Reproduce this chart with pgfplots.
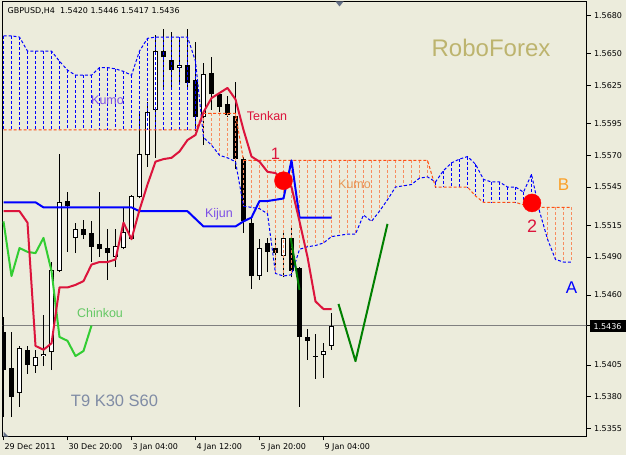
\documentclass[border=0pt]{standalone}
\usepackage{fontspec}
\setmainfont{Liberation Sans}
\newfontfamily\tahoma{DejaVu Sans}
\usepackage{pgfplots}
\pgfplotsset{compat=1.18}
\usepackage{pgfplotstable}

\definecolor{bgc}{RGB}{236,236,220}
\definecolor{kblue}{RGB}{0,0,255}
\definecolor{korange}{RGB}{255,80,20}
\definecolor{khatch}{RGB}{248,140,95}
\definecolor{tenkanc}{RGB}{220,20,60}
\definecolor{kijunc}{RGB}{0,0,255}
\definecolor{chinkouc}{RGB}{50,205,50}
\definecolor{dgreen}{RGB}{0,128,0}
\definecolor{labpurple}{RGB}{125,80,230}
\definecolor{khaki}{RGB}{189,180,110}
\definecolor{slate}{RGB}{128,140,165}
\definecolor{orangeB}{RGB}{250,160,40}
\definecolor{markgray}{RGB}{100,112,135}
\definecolor{labgreen}{RGB}{100,200,100}
\definecolor{kumoorange}{RGB}{232,150,85}

% Senkou span A and B (shifted 30 bars forward)
\pgfplotstableread{
i A B
0 1.5664 1.5590
1 1.5664 1.5590
2 1.5663 1.5590
3 1.5652 1.5590
4 1.5652 1.5590
5 1.5652 1.5590
6 1.5652 1.5590
7 1.5644 1.5590
8 1.5637 1.5590
9 1.5633 1.5590
10 1.5633 1.5590
11 1.5633 1.5590
12 1.5639 1.5590
13 1.5639 1.5590
14 1.5638 1.5590
15 1.5636 1.5590
16 1.5633 1.5590
17 1.5652 1.5590
18 1.5662 1.5590
19 1.5663 1.5590
20 1.5663 1.5590
21 1.5663 1.5590
22 1.5663 1.5590
23 1.5663 1.5590
24 1.5644 1.5590
25 1.5584 1.5603
26 1.5578 1.5603
27 1.5570 1.5603
28 1.5568 1.5603
29 1.5565 1.5603
30 1.5530 1.5566
31 1.5529 1.5566
32 1.5528 1.5566
33 1.5524 1.5566
34 1.5477 1.5566
35 1.5475 1.5566
36 1.5476 1.5566
37 1.5496 1.5566
38 1.5498 1.5566
39 1.5499 1.5566
40 1.5501 1.5566
41 1.5506 1.5566
42 1.5507 1.5566
43 1.5508 1.5566
44 1.5508 1.5566
45 1.5523 1.5566
46 1.5518 1.5566
47 1.5526 1.5566
48 1.5535 1.5566
49 1.5545 1.5566
50 1.5546 1.5566
51 1.5547 1.5566
52 1.5552 1.5566
53 1.5553 1.5566
54 1.5549 1.5545
55 1.5558 1.5545
56 1.5564 1.5545
57 1.5567 1.5545
58 1.5569 1.5545
59 1.5563 1.5538
60 1.5551 1.5533
61 1.5549 1.5533
62 1.5549 1.5533
63 1.5545 1.5533
64 1.5545 1.5533
65 1.5541 1.5531
66 1.5555 1.5529
67 1.5526 1.5529
68 1.5504 1.5529
69 1.5488 1.5529
70 1.5486 1.5529
71 1.5486 1.5529
}\kumo

% Tenkan and Kijun
\pgfplotstableread{
i T K
0 1.5526 1.5533
1 1.5526 1.5533
2 1.5526 1.5533
3 1.5517 1.5533
4 1.5420 1.5533
5 1.5417 1.5529
6 1.5422 1.5529
7 1.5466 1.5529
8 1.5466 1.5529
9 1.5468 1.5529
10 1.5471 1.5529
11 1.5484 1.5529
12 1.5486 1.5529
13 1.5486 1.5529
14 1.5488 1.5529
15 1.5517 1.5529
16 1.5504 1.5529
17 1.5527 1.5526
18 1.5547 1.5526
19 1.5565 1.5526
20 1.5567 1.5526
21 1.5568 1.5526
22 1.5573 1.5526
23 1.5582 1.5526
24 1.5586 1.5520
25 1.5604 1.5514
26 1.5615 1.5514
27 1.5619 1.5514
28 1.5623 1.5514
29 1.5614 1.5514
30 1.5590 1.5518
31 1.5569 1.5521
32 1.5565 1.5534
33 1.5557 1.5534
34 1.5556 1.5535
35 1.5550 1.5536
36 1.5545 1.5566
37 1.5518 1.5521
38 1.5490 1.5521
39 1.5455 1.5521
40 1.5449 1.5521
41 1.5449 1.5521
}\tkdata

% Chinkou (close shifted 30 bars back)
\pgfplotstableread{
i C
0 1.5518
1 1.5475
2 1.5497
3 1.5494
4 1.5493
5 1.5505
6 1.5479
7 1.5427
8 1.5424
9 1.5412
10 1.5416
11 1.5436
}\chdata

% candles: bar, low, body bottom, body top, high
\newcommand{\bear}[5]{%
  \addplot[forget plot, black, line width=1pt] coordinates {(#1,#2) (#1,#5)};
  \addplot[forget plot, black, line width=5pt] coordinates {(#1,#3) (#1,#4)};}
\newcommand{\bull}[5]{%
  \addplot[forget plot, black, line width=1pt] coordinates {(#1,#2) (#1,#5)};
  \addplot[forget plot, black, line width=5pt] coordinates {(#1,#3) (#1,#4)};
  \addplot[forget plot, white, line width=3pt, shorten >=1pt, shorten <=1pt] coordinates {(#1,#3) (#1,#4)};}
% doji: bar, low, price, high
\newcommand{\doji}[4]{%
  \addplot[forget plot, black, line width=1pt] coordinates {(#1,#2) (#1,#4)};
  \addplot[forget plot, black, line width=1pt] coordinates {(#1-0.32,#3) (#1+0.32,#3)};}

\begin{document}
\begin{tikzpicture}
\useasboundingbox (-2.5pt,-18.5pt) rectangle (623.5pt,436.5pt);
\fill[bgc] (-2.5pt,-18.5pt) rectangle (623.5pt,436.5pt);
\begin{axis}[
  at={(0pt,0pt)}, anchor=south west,
  scale only axis, width=584pt, height=435pt,
  xmin=-0.125, xmax=72.875, ymin=1.534871, ymax=1.569102,
  axis line style={line width=1pt, black},
  axis background/.style={fill=bgc},
  tick align=outside, major tick length=4pt,
  tick style={black, line width=0.8pt},
  xtick pos=bottom, ytick pos=right, yticklabel pos=right,
  xtick={0,8,16,24,32,40},
  xticklabels={29 Dec 2011, 30 Dec 20:00, 3 Jan 04:00, 4 Jan 12:00, 5 Jan 20:00, 9 Jan 04:00},
  xticklabel style={anchor=north west, xshift=-2.5pt, font=\tahoma\fontsize{8}{9}\selectfont},
  ytick={1.5355,1.5380,1.5405,1.5436,1.5460,1.5490,1.5515,1.5545,1.5570,1.5595,1.5625,1.5650,1.5680},
  yticklabels={1.5355,1.5380,1.5405,{},1.5460,1.5490,1.5515,1.5545,1.5570,1.5595,1.5625,1.5650,1.5680},
  yticklabel style={anchor=west, font=\tahoma\fontsize{8}{9}\selectfont},
  scaled y ticks=false, scaled x ticks=false,
  clip=true,
]
% bid line
\addplot[forget plot, color={rgb,255:red,128;green,128;blue,128}, line width=0.8pt] coordinates {(-1,1.5436) (80,1.5436)};

% candles
\bear{0}{1.5364}{1.5401}{1.5431}{1.5443}
\bear{1}{1.5364}{1.5380}{1.5403}{1.5431}
\bull{2}{1.5372}{1.5383}{1.5418}{1.5420}
\bear{3}{1.5398}{1.5405}{1.5417}{1.5420}
\bull{4}{1.5399}{1.5404}{1.5411}{1.5417}
\bull{5}{1.5404}{1.5412}{1.5414}{1.5444}
\bull{6}{1.5401}{1.5415}{1.5480}{1.5486}
\bull{7}{1.5478}{1.5479}{1.5533}{1.5571}
\bear{8}{1.5494}{1.5530}{1.5534}{1.5541}
\bull{9}{1.5493}{1.5505}{1.5512}{1.5517}
\bear{10}{1.5504}{1.5507}{1.5512}{1.5519}
\bear{11}{1.5486}{1.5498}{1.5509}{1.5518}
\bear{12}{1.5490}{1.5496}{1.5500}{1.5541}
\bear{13}{1.5472}{1.5493}{1.5497}{1.5512}
\bull{14}{1.5482}{1.5490}{1.5499}{1.5512}
\bull{15}{1.5496}{1.5497}{1.5510}{1.5529}
\bull{16}{1.5503}{1.5504}{1.5538}{1.5539}
\bull{17}{1.5536}{1.5537}{1.5571}{1.5604}
\bull{18}{1.5561}{1.5570}{1.5604}{1.5612}
\bull{19}{1.5568}{1.5606}{1.5652}{1.5665}
\bear{20}{1.5622}{1.5647}{1.5652}{1.5669}
\bear{21}{1.5623}{1.5637}{1.5645}{1.5667}
\bull{22}{1.5626}{1.5639}{1.5641}{1.5663}
\bear{23}{1.5623}{1.5627}{1.5641}{1.5669}
\bear{24}{1.5589}{1.5600}{1.5629}{1.5659}
\bull{25}{1.5578}{1.5600}{1.5634}{1.5643}
\bear{26}{1.5606}{1.5618}{1.5635}{1.5647}
\bear{27}{1.5604}{1.5608}{1.5618}{1.5620}
\bear{28}{1.5600}{1.5602}{1.5610}{1.5617}
\bear{29}{1.5559}{1.5567}{1.5601}{1.5628}
\bear{30}{1.5509}{1.5518}{1.5567}{1.5569}
\bear{31}{1.5465}{1.5475}{1.5517}{1.5521}
\bull{32}{1.5472}{1.5475}{1.5497}{1.5504}
\bear{33}{1.5478}{1.5494}{1.5501}{1.5505}
\bear{34}{1.5484}{1.5493}{1.5497}{1.5505}
\bull{35}{1.5474}{1.5491}{1.5505}{1.5510}
\bear{36}{1.5474}{1.5479}{1.5505}{1.5514}
\bear{37}{1.5372}{1.5427}{1.5481}{1.5482}
\bear{38}{1.5409}{1.5424}{1.5427}{1.5433}
\doji{39}{1.5394}{1.5412}{1.5429}
\bull{40}{1.5395}{1.5413}{1.5416}{1.5422}
\bull{41}{1.5417}{1.5420}{1.5436}{1.5446}

% kumo hatching: span A above span B (blue)
\pgfplotsinvokeforeach{0,...,24,54,55,...,66}{%
  \pgfplotstablegetelem{#1}{A}\of\kumo \let\Aval\pgfplotsretval
  \pgfplotstablegetelem{#1}{B}\of\kumo \let\Bval\pgfplotsretval
  \edef\doit{\noexpand\addplot[forget plot, kblue, line width=1pt, dash pattern=on 3pt off 2pt] coordinates {(#1,\Aval) (#1,\Bval)};}%
  \doit
}
% kumo hatching: span B above span A (orange)
\pgfplotsinvokeforeach{25,...,53,67,68,...,71}{%
  \pgfplotstablegetelem{#1}{A}\of\kumo \let\Aval\pgfplotsretval
  \pgfplotstablegetelem{#1}{B}\of\kumo \let\Bval\pgfplotsretval
  \edef\doit{\noexpand\addplot[forget plot, khatch, line width=1pt, dash pattern=on 3pt off 2pt] coordinates {(#1,\Bval) (#1,\Aval)};}%
  \doit
}
% span lines
\addplot[forget plot, kblue, line width=1pt, dash pattern=on 3pt off 2pt] table[x=i, y=A] {\kumo};
\addplot[forget plot, korange, line width=1pt, dash pattern=on 3pt off 2pt] table[x=i, y=B] {\kumo};

% analyst lines
\addplot[forget plot, dgreen, line width=2pt] coordinates {(35.9,1.5505) (37.0,1.5464)};
\addplot[forget plot, dgreen, line width=2pt, line join=round] coordinates {(41.875,1.5453) (44,1.5408) (48,1.5516)};

% ichimoku lines
\addplot[forget plot, chinkouc, line width=2pt, line join=round] table[x=i, y=C] {\chdata};
\addplot[forget plot, kijunc, line width=2pt, line join=round] table[x=i, y=K] {\tkdata};
\addplot[forget plot, tenkanc, line width=2pt, line join=round] table[x=i, y=T] {\tkdata};

% marked points
\addplot[forget plot, only marks, mark=*, mark size=9pt, color=red, mark options={fill=red, draw=red}] coordinates {(35,1.5550) (66.06,1.55325)};
\end{axis}

% text
\node[anchor=base west, inner sep=0pt, font=\tahoma\fontsize{8}{9}\selectfont] at (5pt,423pt) {GBPUSD,H4\ \ 1.5420 1.5446 1.5417 1.5436};
\node[anchor=base, inner sep=0pt, text=khaki, font=\fontsize{24}{28}\selectfont] at (488.5pt,380pt) {RoboForex};
\node[anchor=base, inner sep=0pt, text=labpurple, font=\fontsize{12.5}{14}\selectfont] at (105pt,332pt) {Kumo};
\node[anchor=base, inner sep=0pt, text=tenkanc, font=\fontsize{12.5}{14}\selectfont] at (264.5pt,316pt) {Tenkan};
\node[anchor=base, inner sep=0pt, text=labpurple, font=\fontsize{12.5}{14}\selectfont] at (216.5pt,219pt) {Kijun};
\node[anchor=base, inner sep=0pt, text=labgreen, font=\fontsize{12.5}{14}\selectfont] at (97.5pt,119pt) {Chinkou};
\node[anchor=base, inner sep=0pt, text=kumoorange, font=\fontsize{12.5}{14}\selectfont] at (352pt,248pt) {Kumo};
\node[anchor=base, inner sep=0pt, text=tenkanc, font=\fontsize{16.5}{18}\selectfont] at (273pt,277pt) {1};
\node[anchor=base, inner sep=0pt, text=tenkanc, font=\fontsize{18}{20}\selectfont] at (529.5pt,204pt) {2};
\node[anchor=base, inner sep=0pt, text=orangeB, font=\fontsize{17}{19}\selectfont] at (561pt,246pt) {B};
\node[anchor=base, inner sep=0pt, text=blue, font=\fontsize{17}{19}\selectfont] at (569pt,143pt) {A};
\node[anchor=base, inner sep=0pt, text=slate, font=\fontsize{16.5}{18}\selectfont] at (112pt,30pt) {T9 K30 S60};
% bid label
\fill[black] (587pt,104pt) rectangle (623pt,116pt);
\node[inner sep=0pt, text=white, font=\tahoma\fontsize{8}{9}\selectfont] at (605pt,110pt) {1.5436};
% small markers
\fill[markgray] (333pt,435pt) -- (341pt,435pt) -- (337pt,430pt) -- cycle;
\fill[markgray] (1pt,5pt) -- (1pt,0pt) -- (6pt,0pt) -- cycle;
\end{tikzpicture}
\end{document}
